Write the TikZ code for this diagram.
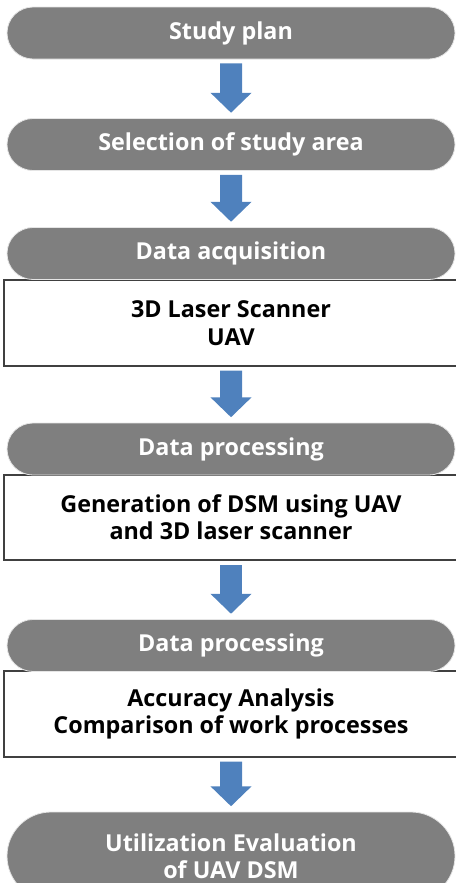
\documentclass[tikz,border=0pt]{standalone}
\usepackage{fontspec}
\setmainfont{Open Sans}
\usetikzlibrary{arrows.meta,shapes.misc}

\definecolor{pillgray}{RGB}{127,127,127}
\definecolor{boxgray}{RGB}{64,64,64}
\definecolor{flowblue}{RGB}{79,129,189}

\begin{document}
\begin{tikzpicture}[x=0.75pt,y=-0.75pt,
    pill/.style={rounded rectangle,fill=pillgray,draw=white!80!gray,line width=0.6pt,
      minimum width=336pt,minimum height=39pt,inner sep=0pt,text=white,align=center,
      font=\bfseries\fontsize{17.5}{20.5}\selectfont},
    detail/.style={rectangle,draw=boxgray,line width=1.5pt,fill=white,
      minimum width=340pt,minimum height=64pt,inner sep=0pt,align=center,
      font=\bfseries\fontsize{17.5}{20.5}\selectfont},
    flow/.style={draw=flowblue,line width=16.5pt,
      -{Triangle[width=30pt,length=15pt]},shorten <=3pt,shorten >=4pt}]
  \useasboundingbox (0,0) rectangle (456,883);

  \node[detail] (acqbox) at (231,323) {3D Laser Scanner\\UAV};
  \node[detail] (dsmbox) at (231,517.5) {Generation of DSM using UAV\\and 3D laser scanner};
  \node[detail] (accbox) at (231,714) {Accuracy Analysis\\Comparison of work processes};

  \node[pill] (plan) at (231,33) {Study plan};
  \node[pill] (area) at (231,144.5) {Selection of study area};
  \node[pill] (acq) at (231,253.5) {Data acquisition};
  \node[pill] (proc) at (231,449) {Data processing};
  \node[pill] (proc2) at (231,645.5) {Data processing};
  \node[pill,minimum height=66pt] (util) at (231,856) {Utilization Evaluation\\of UAV DSM};

  \draw[flow] (plan) -- (area);
  \draw[flow] (area) -- (acq);
  \draw[flow] (acqbox) -- (proc);
  \draw[flow] (dsmbox) -- (proc2);
  \draw[flow] (accbox) -- (util);
\end{tikzpicture}
\end{document}
